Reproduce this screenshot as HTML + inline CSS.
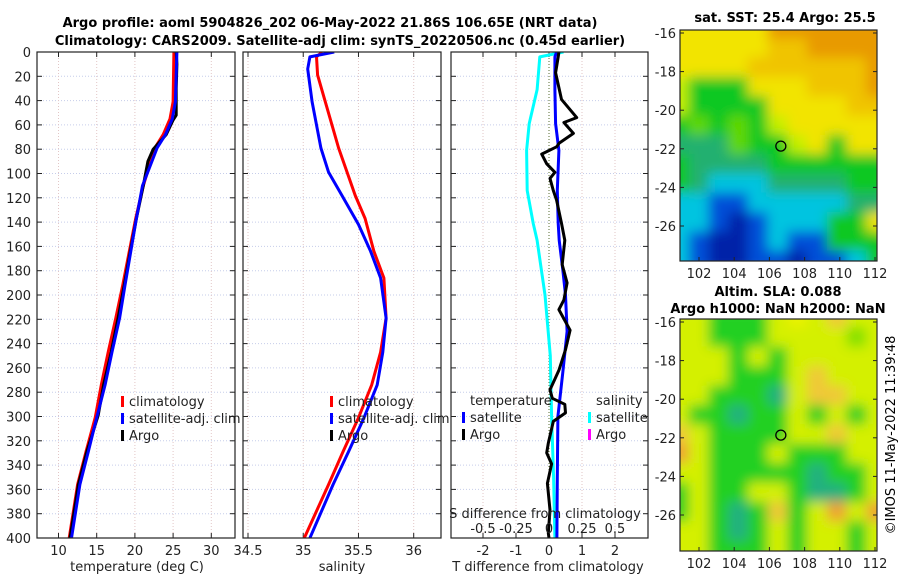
<!DOCTYPE html>
<html><head><meta charset="utf-8"><style>
html,body{margin:0;padding:0;background:#fff;}
svg{display:block;font-family:"DejaVu Sans","Liberation Sans",sans-serif;}
</style></head><body>
<svg id="fig" width="900" height="580" viewBox="0 0 900 580" xmlns="http://www.w3.org/2000/svg">
<defs>
<filter id="blurA" filterUnits="userSpaceOnUse" x="660" y="10" width="240" height="270"><feGaussianBlur stdDeviation="6"/></filter>
<filter id="blurB" filterUnits="userSpaceOnUse" x="660" y="300" width="240" height="270"><feGaussianBlur stdDeviation="6"/></filter>
<clipPath id="clipM1"><rect x="680" y="30" width="197" height="231"/></clipPath>
<clipPath id="clipM2"><rect x="680" y="319" width="197" height="232"/></clipPath>
<clipPath id="clipP1"><rect x="37" y="52" width="198" height="486"/></clipPath>
<clipPath id="clipP2"><rect x="243" y="52" width="198" height="486"/></clipPath>
<clipPath id="clipP3"><rect x="451" y="52" width="197" height="486"/></clipPath>
</defs>
<text x="330" y="27" text-anchor="middle" font-size="13" font-weight="bold">Argo profile: aoml 5904826_202 06-May-2022 21.86S 106.65E (NRT data)</text>
<text x="340" y="45" text-anchor="middle" font-size="13" font-weight="bold">Climatology: CARS2009. Satellite-adj clim: synTS_20220506.nc (0.45d earlier)</text>
<g id="layer"></g>
<text x="785" y="22" text-anchor="middle" font-size="13" font-weight="bold">sat. SST: 25.4 Argo: 25.5</text>
<text x="778" y="296" text-anchor="middle" font-size="13" font-weight="bold">Altim. SLA: 0.088</text>
<text x="778" y="313" text-anchor="middle" font-size="13" font-weight="bold">Argo h1000: NaN h2000: NaN</text>
<text transform="translate(895,435) rotate(-90)" text-anchor="middle" font-size="13">©IMOS 11-May-2022 11:39:48</text>
</svg>
<script>
// ---------- data ----------
const depthTicks = [0,20,40,60,80,100,120,140,160,180,200,220,240,260,280,300,320,340,360,380,400];
const tempTicks = [10,15,20,25,30];
const salTicks = [34.5,35,35.5,36];
const tdiffTicks = [-2,-1,0,1,2];
const sdiffTicks = [-0.5,-0.25,0,0.25,0.5];
const sdiffTickLabels = ["-0.5","-0.25","0","0.25","0.5"];

const argoTempDepth = [0,10,30,52,56,68,80,90,110,137,164,192,219,247,274,299,329,356,400];
const argoTemp      = [25.4,25.5,25.4,25.4,25.0,24.1,22.4,21.7,21.1,20.2,19.4,18.6,17.8,16.9,15.9,15.2,13.7,12.6,11.5];
const climTempDepth = [0,41,55,68,79,110,137,192,219,247,274,301,329,356,400];
const climTemp      = [25.1,25.0,24.6,23.7,22.6,21.1,20.1,18.4,17.5,16.5,15.6,14.8,13.6,12.5,11.4];
const satTempDepth  = [0,41,55,68,79,110,137,192,219,247,274,301,329,356,400];
const satTemp       = [25.5,25.3,24.9,24.0,22.9,21.0,20.2,18.7,18.0,17.0,16.1,15.0,13.9,12.8,11.7];

const climSalDepth = [0,4,19,41,79,118,137,164,186,219,247,274,301,329,356,400];
const climSal      = [35.17,35.12,35.13,35.20,35.32,35.47,35.56,35.64,35.73,35.75,35.70,35.62,35.50,35.36,35.23,35.01];
const satSalDepth  = [0,4,14,41,79,99,118,142,164,186,219,247,274,301,329,356,400];
const satSal       = [35.28,35.06,35.04,35.08,35.16,35.23,35.35,35.50,35.61,35.70,35.75,35.72,35.67,35.55,35.41,35.27,35.06];

const cyanDepth = [0,4,31,59,81,114,141,155,200,250,300,350,400];
const satSalDiff = [0.11,-0.07,-0.09,-0.15,-0.17,-0.165,-0.12,-0.09,-0.03,0.01,0.02,0.035,0.045];
const blueDepth = [0,4,31,59,81,114,141,155,180,200,230,263,300,350,400];
const satTempDiff = [0.23,0.18,0.18,0.2,0.3,0.25,0.28,0.31,0.42,0.5,0.55,0.42,0.27,0.25,0.24];
const argoDiffDepth = [0,4,17,39,54,58,67,75,78,84,92,99,104,114,122,141,155,175,190,204,212,229,245,262,278,285,290,297,304,322,330,339,355,377,396,400];
const argoTempDiff  = [0.3,0.28,0.2,0.38,0.84,0.45,0.74,0.31,0.23,-0.22,-0.07,0.18,0.03,0.13,0.23,0.38,0.48,0.4,0.55,0.45,0.3,0.64,0.5,0.3,0.03,0.1,0.48,0.5,0.13,-0.02,-0.07,0.08,-0.05,0.03,-0.02,0.0];

const sstGrid = [
"YYYYYOOOOOO","YYYYYooOOOO","YYYYooooooO","yGGGYYYoooO","yGGGGYYYYoo","GgGgGyYYYYY",
"TTTgGGyYGYY","GTTTTGGGGGG","GTCCCTTTTGG","CCBBCCCCCTT","CCBDBCCCGGY","CBDDBCBBGGG","CBDDBBDBBCG"];
const slaGrid = [
"YYGGGYyYoYY","YYGGGYYYYgY","YYYGYGYYYYY","YYYGGGYoYYY","YYGGGTYooYY","YGGTGGYGYGY",
"oYGGGGYYoYY","OYGGGYGGGYY","YYGGGGGTGGY","GYGGYYGTTGY","GYGTGoGYOYO","YYGTGYGYYGY","YYGGGYGYYGY"];
const sstColors = {Y:"#f2e400",O:"#e89a00",o:"#f0c400",y:"#c4ef00",G:"#10c820",g:"#60d800",T:"#20b070",C:"#00c4e0",B:"#0050d8",D:"#0020a8"};
const slaColors = {Y:"#d4f000",y:"#eaf200",o:"#f0c838",O:"#f0a030",G:"#20d020",g:"#80e000",T:"#20b080"};
const argoLon = 106.65, argoLat = -21.86;

// ---------- helpers ----------
const NS="http://www.w3.org/2000/svg";
const layer=document.getElementById('layer');
function mk(tag,attrs,parent){const e=document.createElementNS(NS,tag);for(const k in attrs)e.setAttribute(k,attrs[k]);(parent||layer).appendChild(e);return e;}
const yTop=52,yBot=538;
function yD(d){return yTop+(d/400)*(yBot-yTop);}
function lin(d0,d1,p0,p1){return v=>p0+(v-d0)*(p1-p0)/(d1-d0);}
const xT=lin(10,30,58.5,211.3);
const xS=lin(34.5,36,248,413.7);
const xTd=lin(-2,2,483,615);
const xSd=lin(-0.5,0.5,483,615);

function panel(x0,x1,name,xScale,ticks,tickLabels,showYLabels){
  const g=mk('g',{});
  
  
  mk('rect',{x:x0,y:yTop,width:x1-x0,height:yBot-yTop,fill:'#fff'},g);
  depthTicks.forEach(d=>{
    const l=mk('line',{x1:x0,x2:x1,y1:yD(d),y2:yD(d),stroke:'#c6cdea','stroke-width':1,'stroke-dasharray':'1,2'},g);
    
    
    mk('line',{x1:x0,x2:x0+5,y1:yD(d),y2:yD(d),stroke:'#222'},g);
    mk('line',{x1:x1-5,x2:x1,y1:yD(d),y2:yD(d),stroke:'#222'},g);
    if(showYLabels){const t=mk('text',{x:x0-6,y:yD(d)+5,'text-anchor':'end','font-size':13,fill:'#222'},g);t.textContent=d;
      
      }
  });
  ticks.forEach((v,i)=>{
    const x=xScale(v);
    const l=mk('line',{x1:x,x2:x,y1:yTop,y2:yBot,stroke:'#e2c6c6','stroke-width':1,'stroke-dasharray':'1,2'},g);
    
    
    mk('line',{x1:x,x2:x,y1:yBot-5,y2:yBot,stroke:'#222'},g);
    mk('line',{x1:x,x2:x,y1:yTop,y2:yTop+5,stroke:'#222'},g);
    const t=mk('text',{x:x,y:yBot+17,'text-anchor':'middle','font-size':13,fill:'#222'},g);t.textContent=tickLabels[i];
    
    
  });
  return g;
}
function line(g,xs,ds,xScale,color,w,clip,name){
  const pts=xs.map((v,i)=>xScale(v).toFixed(1)+','+yD(ds[i]).toFixed(1)).join(' ');
  const p=mk('polyline',{points:pts,fill:'none',stroke:color,'stroke-width':w,'stroke-linejoin':'round','clip-path':'url(#'+clip+')'},g);
  
  
}
function frame(g,x0,x1){mk('rect',{x:x0,y:yTop,width:x1-x0,height:yBot-yTop,fill:'none',stroke:'#222','stroke-width':1.2},g);}
function txt(g,x,y,s,name,opts){const t=mk('text',Object.assign({x:x,y:y,'font-size':13,fill:'#222'},opts||{}),g);t.textContent=s;
  
  return t;}
function legMark(g,x,y,c,name){const r=mk('rect',{x:x,y:y-10,width:3,height:11,fill:c},g);
  
  }

// ---------- panel 1 temperature ----------
const p1=panel(37,235,'temperature-panel',xT,tempTicks,tempTicks.map(String),true);
line(p1,climTemp,climTempDepth,xT,'#ff0000',3,'clipP1','climatology-temp-line');
line(p1,argoTemp,argoTempDepth,xT,'#000000',3,'clipP1','argo-temp-line');
line(p1,satTemp,satTempDepth,xT,'#0000ff',3,'clipP1','satellite-temp-line');
frame(p1,37,235);
legMark(p1,121,406,'#ff0000','legend-marker-climatology');txt(p1,129,406,'climatology','legend-climatology');
legMark(p1,121,423,'#0000ff','legend-marker-satellite');txt(p1,129,423,'satellite-adj. clim','legend-satellite');
legMark(p1,121,440,'#000','legend-marker-argo');txt(p1,129,440,'Argo','legend-argo');
txt(p1,137,571,'temperature (deg C)','x-axis-title-temperature',{'text-anchor':'middle'});

// ---------- panel 2 salinity ----------
const p2=panel(243,441,'salinity-panel',xS,salTicks,salTicks.map(String),false);
line(p2,climSal,climSalDepth,xS,'#ff0000',3,'clipP2','climatology-sal-line');
line(p2,satSal,satSalDepth,xS,'#0000ff',3,'clipP2','satellite-sal-line');
frame(p2,243,441);
legMark(p2,330,406,'#ff0000','legend-marker-climatology');txt(p2,338,406,'climatology','legend-climatology');
legMark(p2,330,423,'#0000ff','legend-marker-satellite');txt(p2,338,423,'satellite-adj. clim','legend-satellite');
legMark(p2,330,440,'#000','legend-marker-argo');txt(p2,338,440,'Argo','legend-argo');
txt(p2,342,571,'salinity','x-axis-title-salinity',{'text-anchor':'middle'});

// ---------- panel 3 differences ----------
const p3=panel(451,648,'difference-panel',xTd,tdiffTicks,tdiffTicks.map(String),false);
const z=mk('line',{x1:xTd(0),x2:xTd(0),y1:yTop,y2:yBot,stroke:'#556b2f','stroke-width':1,'stroke-dasharray':'1,2'},p3);


line(p3,satSalDiff,cyanDepth,xSd,'#00ffff',3,'clipP3','satellite-sal-diff-line');
line(p3,satTempDiff,blueDepth,xTd,'#0000ff',3,'clipP3','satellite-temp-diff-line');
line(p3,argoTempDiff,argoDiffDepth,xTd,'#000000',3,'clipP3','argo-temp-diff-line');
frame(p3,451,648);
txt(p3,470,405,'temperature','legend-temperature-header');
txt(p3,596,405,'salinity','legend-salinity-header');
legMark(p3,462,422,'#0000ff','legend-marker-t-satellite');txt(p3,470,422,'satellite','legend-t-satellite');
legMark(p3,462,439,'#000','legend-marker-t-argo');txt(p3,470,439,'Argo','legend-t-argo');
legMark(p3,588,422,'#00ffff','legend-marker-s-satellite');txt(p3,596,422,'satellite','legend-s-satellite');
legMark(p3,588,439,'#ff00ff','legend-marker-s-argo');txt(p3,596,439,'Argo','legend-s-argo');
txt(p3,545,518,'S difference from climatology','s-axis-title',{'text-anchor':'middle'});
sdiffTicks.forEach((v,i)=>txt(p3,xSd(v),533,sdiffTickLabels[i],'s-tick-label',{'text-anchor':'middle'}));
txt(p3,548,571,'T difference from climatology','x-axis-title-tdiff',{'text-anchor':'middle'});

// ---------- maps ----------
const lonS=lin(102,112,699,875);
function mapPanel(name,grid,colors,top,bottom,clip,blur){
  const latS=lin(-16,-26,top+3,top+3+193);
  const g=mk('g',{});
  
  
  const cells=mk('g',{'clip-path':'url(#'+clip+')'},g);
  const inner=mk('g',{filter:'url(#'+blur+')'},cells);
  const nC=grid[0].length, nR=grid.length;
  const cw=(877-680+20)/nC, ch=(bottom-top+20)/nR;
  grid.forEach((row,r)=>{[...row].forEach((c2,c)=>{
    mk('rect',{x:670+c*cw-1,y:top-10+r*ch-1,width:cw+2,height:ch+2,fill:colors[c2]},inner);
  });});
  mk('rect',{x:680,y:top,width:197,height:bottom-top,fill:'none',stroke:'#222','stroke-width':1.2},g);
  [102,104,106,108,110,112].forEach(v=>{
    mk('line',{x1:lonS(v),x2:lonS(v),y1:bottom,y2:bottom-4,stroke:'#222'},g);
    txt(g,lonS(v),bottom+17,String(v),'lon-tick-label',{'text-anchor':'middle'});
  });
  [-16,-18,-20,-22,-24,-26].forEach(v=>{
    mk('line',{x1:680,x2:684,y1:latS(v),y2:latS(v),stroke:'#222'},g);
    mk('line',{x1:873,x2:877,y1:latS(v),y2:latS(v),stroke:'#222'},g);
    txt(g,676,latS(v)+5,String(v),'lat-tick-label',{'text-anchor':'end'});
  });
  const c=mk('circle',{cx:lonS(argoLon),cy:latS(argoLat),r:5,fill:'none',stroke:'#000','stroke-width':1.3},g);
  
  
}
mapPanel('sst-map',sstGrid,sstColors,30,261,'clipM1','blurA');
mapPanel('sla-map',slaGrid,slaColors,319,551,'clipM2','blurB');
</script>
</body></html>
